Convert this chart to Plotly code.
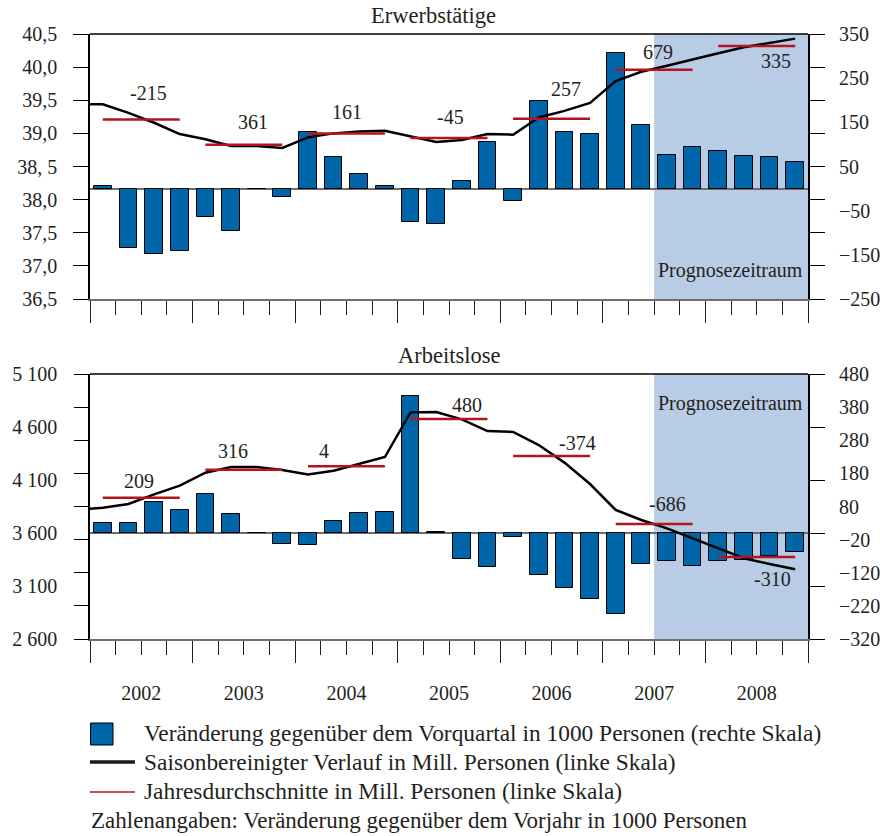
import plotly.graph_objects as go

# ---------------- data ----------------
years = ["2002", "2003", "2004", "2005", "2006", "2007", "2008"]

# Erwerbstätige (employed persons)
emp_level_2001q4 = 39.44  # seasonally adjusted level, Mill. (2001 Q4)
emp_level = [39.44, 39.31, 39.16, 38.99,
             38.91, 38.81, 38.81, 38.78,
             38.94, 39.00, 39.03, 39.04,
             38.95, 38.87, 38.90, 38.99,
             38.98, 39.24, 39.34, 39.46,
             39.79, 39.93, 40.02, 40.12,
             40.21, 40.30, 40.37, 40.43]
emp_change = [5, -135, -149, -142,
              -65, -95, -1, -20,
              128, 72, 32, 5,
              -75, -81, 17, 105,
              -29, 199, 127, 123,
              306, 144, 76, 94,
              85, 74, 71, 60]
emp_avg = [39.21, 38.83, 39.00, 38.93, 39.22, 39.96, 40.32]
emp_yoy = [-215, 361, 161, -45, 257, 679, 335]

# Arbeitslose (unemployed persons)
unemp_level_2001q4 = 3817
unemp_level = [3839, 3874, 3965, 4047,
               4169, 4223, 4223, 4194,
               4153, 4188, 4251, 4317,
               4738, 4741, 4672, 4562,
               4553, 4430, 4264, 4062,
               3817, 3723, 3644, 3550,
               3456, 3362, 3308, 3258]
unemp_change = [30, 29, 94, 70,
                119, 57, -1, -32,
                -36, 35, 60, 63,
                415, 2, -79, -103,
                -12, -126, -166, -198,
                -246, -93, -85, -99,
                -86, -82, -69, -57]
unemp_avg = [3933, 4197, 4229, 4676, 4326, 3685, 3374]
unemp_yoy = [209, 316, 4, 480, -374, -686, -310]

# tick labels
emp_left_vals = [36.5, 37.0, 37.5, 38.0, 38.5, 39.0, 39.5, 40.0, 40.5]
emp_left_text = ["36,5", "37,0", "37,5", "38,0", "38, 5", "39,0", "39,5", "40,0", "40,5"]
emp_right_vals = [-250, -150, -50, 50, 150, 250, 350]
unemp_left_vals = [2600, 3100, 3600, 4100, 4600, 5100]
unemp_left_text = ["2 600", "3 100", "3 600", "4 100", "4 600", "5 100"]
unemp_right_vals = [-320, -220, -120, -20, 80, 180, 280, 380, 480]
forecast_start_quarter = 22  # 2007 Q3

# ---------------- layout geometry (pixels) ----------------
W, H = 880, 836
L, R, T, B = 90, 72, 34, 197
PW, PH = W - L - R, H - T - B
TOP_DOM = [(639 - 299) / PH, 1.0]
BOT_DOM = [0.0, (639 - 374) / PH]
NQ = 4 * len(years)

def px_x(xp):
    return (xp - L) / PW

def px_y(yp):
    return (H - B - yp) / PH

FONT = "Liberation Serif"
TXT = "#231f20"
BLUE = "#0066aa"
RED = "#b4141e"
SHADE = "#b9cce6"
GREY = "#6e6e6e"

xc = [i + 0.5 for i in range(NQ)]
xl = [-0.5] + xc

def avg_segments(avgs):
    xs, ys = [], []
    for k, v in enumerate(avgs):
        xs += [4 * k + 0.5, 4 * k + 3.5, None]
        ys += [v, v, None]
    return xs, ys

fig = go.Figure()

# top panel
fig.add_trace(go.Bar(x=xc, y=emp_change, xaxis="x", yaxis="y", width=0.69,
                     marker=dict(color=BLUE, line=dict(color="black", width=1)),
                     showlegend=False, hoverinfo="skip"))
fig.add_trace(go.Scatter(x=xl, y=[emp_level_2001q4] + emp_level, xaxis="x", yaxis="y2",
                         mode="lines", line=dict(color="black", width=2.5),
                         showlegend=False))
ax, ay = avg_segments(emp_avg)
fig.add_trace(go.Scatter(x=ax, y=ay, xaxis="x", yaxis="y2", mode="lines",
                         line=dict(color=RED, width=2.5), showlegend=False))

# bottom panel
fig.add_trace(go.Bar(x=xc, y=unemp_change, xaxis="x2", yaxis="y3", width=0.69,
                     marker=dict(color=BLUE, line=dict(color="black", width=1)),
                     showlegend=False, hoverinfo="skip"))
fig.add_trace(go.Scatter(x=xl, y=[unemp_level_2001q4] + unemp_level, xaxis="x2", yaxis="y4",
                         mode="lines", line=dict(color="black", width=2.5),
                         showlegend=False))
ax, ay = avg_segments(unemp_avg)
fig.add_trace(go.Scatter(x=ax, y=ay, xaxis="x2", yaxis="y4", mode="lines",
                         line=dict(color=RED, width=2.5), showlegend=False))

# empty traces so that the helper axes (year labels, extra tick marks) get drawn
for xa, ya in [("x3", "y3"), ("x2", "y5"), ("x2", "y6")]:
    fig.add_trace(go.Scatter(x=[], y=[], xaxis=xa, yaxis=ya, mode="lines",
                             showlegend=False, hoverinfo="skip"))

xcommon = dict(range=[0, NQ], tickmode="linear", tick0=0, dtick=4, ticks="outside",
               ticklen=22, tickwidth=1.2, tickcolor="#222", showticklabels=False,
               showgrid=False, zeroline=False, showline=True, linecolor=GREY, linewidth=1.5,
               minor=dict(ticks="outside", ticklen=14, tick0=0, dtick=1, tickwidth=1,
                          tickcolor="#222", showgrid=False),
               automargin=False, fixedrange=True)

tickfont = dict(family=FONT, size=20, color=TXT)

fig.update_layout(
    width=W, height=H,
    margin=dict(l=L, r=R, t=T, b=B, autoexpand=False),
    paper_bgcolor="white", plot_bgcolor="white",
    font=dict(family=FONT, size=20, color=TXT),
    showlegend=False,
    bargap=0,
    xaxis=dict(anchor="y", **xcommon),
    xaxis2=dict(anchor="y3", **xcommon),
    xaxis3=dict(anchor="y3", overlaying="x2", side="bottom", range=[0, NQ], tickmode="array",
                tickvals=[4 * k + 2 for k in range(len(years))], ticktext=years,
                ticks="", showline=False, showgrid=False, zeroline=False,
                ticklabelstandoff=40, tickfont=tickfont, automargin=False, fixedrange=True),
    # top: bars (right scale)
    yaxis=dict(domain=TOP_DOM, anchor="x", side="right", range=[-250, 350],
               tickmode="array", tickvals=emp_right_vals, ticks="",
               ticklabelstandoff=30, tickfont=tickfont, showgrid=False,
               showline=False, zeroline=True, zerolinecolor=GREY, zerolinewidth=1.5,
               automargin=False, fixedrange=True),
    # top: levels (left scale)
    yaxis2=dict(anchor="x", overlaying="y", side="left", range=[36.5, 40.5],
                tickmode="array", tickvals=emp_left_vals, ticktext=emp_left_text,
                ticks="outside", ticklen=15, tickcolor="black", tickwidth=1.2,
                mirror="ticks", showline=True, linecolor="black", linewidth=1.5,
                ticklabelstandoff=12, tickfont=tickfont, showgrid=False,
                zeroline=False, automargin=False, fixedrange=True),
    # bottom: bars (right scale)
    yaxis3=dict(domain=BOT_DOM, anchor="x2", side="right", range=[-320, 480],
                tickmode="array", tickvals=unemp_right_vals, ticks="",
                ticklabelstandoff=30, tickfont=tickfont, showgrid=False,
                showline=False, zeroline=True, zerolinecolor=GREY, zerolinewidth=1.5,
                automargin=False, fixedrange=True),
    # bottom: levels (left scale)
    yaxis4=dict(anchor="x2", overlaying="y3", side="left", range=[2600, 5100],
                tickmode="array", tickvals=unemp_left_vals, ticktext=unemp_left_text,
                ticks="", showline=True, linecolor="black", linewidth=1.5,
                ticklabelstandoff=27, tickfont=tickfont, showgrid=False,
                zeroline=False, automargin=False, fixedrange=True),
    # bottom: tick marks on the left at right-scale steps
    yaxis5=dict(anchor="x2", overlaying="y3", side="left", range=[-320, 480],
                tickmode="array", tickvals=unemp_right_vals, ticks="outside",
                ticklen=15, tickcolor="black", tickwidth=1.2, showticklabels=False,
                showline=False, showgrid=False, zeroline=False,
                automargin=False, fixedrange=True),
    # bottom: tick marks on the right at left-scale steps
    yaxis6=dict(anchor="x2", overlaying="y3", side="right", range=[2600, 5100],
                tickmode="array", tickvals=unemp_left_vals, ticks="outside",
                ticklen=15, tickcolor="black", tickwidth=1.2, showticklabels=False,
                showline=True, linecolor="black", linewidth=1.5, showgrid=False,
                zeroline=False, automargin=False, fixedrange=True),
)

shapes = []
# forecast shading
shapes.append(dict(type="rect", xref="x", yref="y domain", x0=forecast_start_quarter, x1=NQ,
                   y0=0, y1=1, fillcolor=SHADE, line=dict(width=0), layer="below"))
shapes.append(dict(type="rect", xref="x2", yref="y3 domain", x0=forecast_start_quarter, x1=NQ,
                   y0=0, y1=1, fillcolor=SHADE, line=dict(width=0), layer="below"))
# top borders
shapes.append(dict(type="line", xref="paper", yref="y domain", x0=0, x1=1, y0=1, y1=1,
                   line=dict(color="black", width=1.5)))
shapes.append(dict(type="line", xref="paper", yref="y3 domain", x0=0, x1=1, y0=1, y1=1,
                   line=dict(color="black", width=1.5)))
# legend symbols
shapes.append(dict(type="rect", xref="paper", yref="paper", x0=px_x(90.5), x1=px_x(113),
                   y0=px_y(745), y1=px_y(723), fillcolor=BLUE,
                   line=dict(color="black", width=1)))
shapes.append(dict(type="line", xref="paper", yref="paper", x0=px_x(90), x1=px_x(135),
                   y0=px_y(762), y1=px_y(762), line=dict(color="#1a1a1a", width=3.5)))
shapes.append(dict(type="line", xref="paper", yref="paper", x0=px_x(90), x1=px_x(135),
                   y0=px_y(792), y1=px_y(792), line=dict(color=RED, width=1.5)))
fig.update_layout(shapes=shapes)

ann = []
def text(xp, yp, s, size=20, xanchor="center"):
    ann.append(dict(xref="paper", yref="paper", x=px_x(xp), y=px_y(yp), text=s,
                    showarrow=False, xanchor=xanchor, yanchor="middle",
                    font=dict(family=FONT, size=size, color=TXT)))

text(433, 15, "Erwerbstätige", size=22.5)
text(449, 355, "Arbeitslose", size=22.5)
text(805, 270, "Prognosezeitraum", xanchor="right")
text(805, 403, "Prognosezeitraum", xanchor="right")

emp_label_px = [(148, 93), (253, 122), (347, 112), (451, 117), (566, 89), (658, 52), (776, 61)]
unemp_label_px = [(139, 481), (233, 451), (324, 451), (467, 405), (577, 443), (667, 504), (772, 579)]
for v, (xp, yp) in zip(emp_yoy, emp_label_px):
    text(xp, yp, str(v))
for v, (xp, yp) in zip(unemp_yoy, unemp_label_px):
    text(xp, yp, str(v))

LEG = 23.4
text(142, 733, "Veränderung gegenüber dem Vorquartal in 1000 Personen (rechte Skala)", size=LEG, xanchor="left")
text(142, 762, "Saisonbereinigter Verlauf in Mill. Personen (linke Skala)", size=LEG, xanchor="left")
text(142, 791, "Jahresdurchschnitte in Mill. Personen (linke Skala)", size=LEG, xanchor="left")
text(89, 820, "Zahlenangaben: Veränderung gegenüber dem Vorjahr in 1000 Personen", size=23, xanchor="left")
fig.update_layout(annotations=ann)

# remove the browser's default page margin so the figure sits at the window origin
fig.write_html("out.html", config={"displayModeBar": False},
               post_script="document.body.style.margin='0px';")
